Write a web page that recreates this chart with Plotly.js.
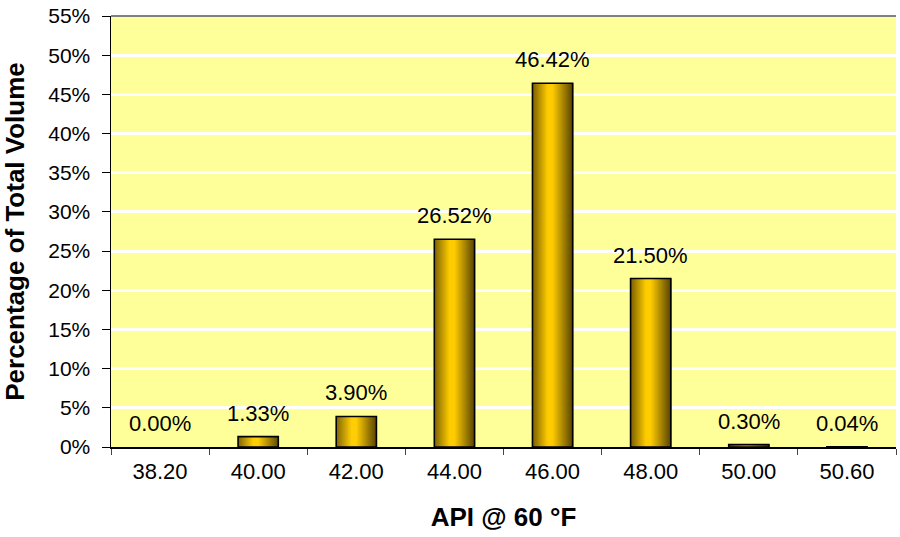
<!DOCTYPE html>
<html><head><meta charset="utf-8">
<script src="https://cdn.plot.ly/plotly-3.0.1.min.js"></script>
<style>html,body{margin:0;padding:0;background:#fff}#chart{width:900px;height:537px}</style>
</head><body><div id="chart"></div>
<script>
const categories = ["38.20","40.00","42.00","44.00","46.00","48.00","50.00","50.60"];
const values = [0.0000, 0.0133, 0.0390, 0.2652, 0.4642, 0.2150, 0.0030, 0.0004];
const labels = ["0.00%","1.33%","3.90%","26.52%","46.42%","21.50%","0.30%","0.04%"];

const FONT = "Arial, 'Liberation Sans', sans-serif";
const BW = 0.41, N = 40;
const stops = [[0,[122,95,0]],[0.38,[255,204,0]],[0.5,[255,204,0]],[1,[88,68,0]]];
function grad(t){
  for(let i=1;i<stops.length;i++){
    if(t<=stops[i][0]){
      const a=stops[i-1],b=stops[i],u=(t-a[0])/(b[0]-a[0]);
      const c=a[1].map((v,k)=>Math.round(v+(b[1][k]-v)*u));
      return 'rgb('+c.join(',')+')';
    }
  }
  return 'rgb(88,68,0)';
}
const traces=[];
for(let i=0;i<N;i++){
  traces.push({type:'bar',x:categories,y:values,width:BW/N*1.6,offset:-BW/2+i*BW/N,
    marker:{color:grad((i+0.5)/N),line:{width:0}},hoverinfo:'skip',showlegend:false});
}
traces.push({type:'bar',x:categories,y:values,width:BW,offset:-BW/2,
  marker:{color:'rgba(0,0,0,0)',line:{color:'#000',width:values.map(v=>v>0?1.6:0)}},
  hoverinfo:'skip',showlegend:false});

const annotations = categories.map((c,i)=>({x:i,y:values[i],xref:'x',yref:'y',text:labels[i],
  showarrow:false,yanchor:'bottom',yshift:9,font:{family:FONT,size:22,color:'#000'}}));

const layout={
  width:900,height:537,margin:{l:111,r:4,t:16,b:90},
  paper_bgcolor:'#fff',plot_bgcolor:'#FFFF99',barmode:'overlay',
  font:{family:FONT,color:'#000'},
  xaxis:{type:'category',tickson:'boundaries',ticks:'outside',ticklen:6,tickcolor:'#444',tickwidth:1,
    showline:true,linecolor:'#000',linewidth:1.5,showgrid:false,tickfont:{size:22,family:FONT},
    ticklabelstandoff:4,
    title:{text:'<b>API @ 60 °F</b>',font:{size:26,family:FONT},standoff:25},range:[-0.5,7.5]},
  yaxis:{range:[0,0.55],dtick:0.05,tick0:0,tickformat:'.0%',ticks:'outside',ticklen:8,tickcolor:'#000',
    showline:true,linecolor:'#000',linewidth:1.5,showgrid:true,gridcolor:'#fff',gridwidth:3,
    zeroline:false,tickfont:{size:21,family:FONT},ticklabelstandoff:7,
    title:{text:'<b>Percentage of Total Volume</b>',font:{size:26,family:FONT},standoff:20}},
  annotations:annotations,
  shapes:[{type:'line',xref:'paper',yref:'paper',x0:0,x1:1,y0:1,y1:1,line:{color:'#808080',width:2}}]
};
Plotly.newPlot('chart',traces,layout,{staticPlot:true});
</script></body></html>
